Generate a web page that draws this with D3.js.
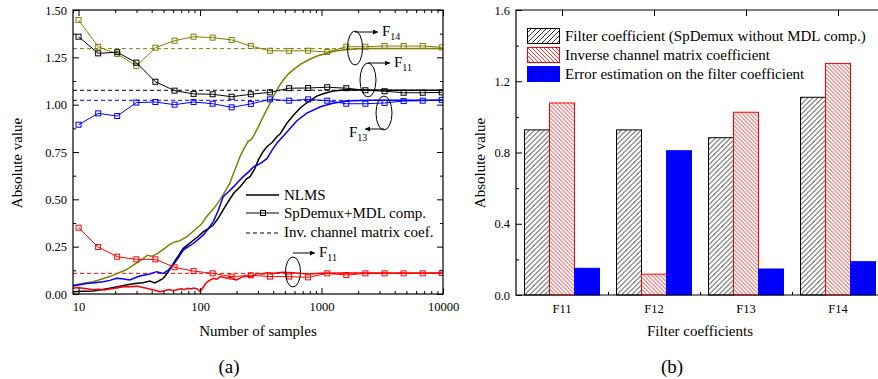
<!DOCTYPE html>
<html>
<head>
<meta charset="utf-8">
<script src="https://cdn.jsdelivr.net/npm/d3@7"></script>
<style>
  body { margin: 0; background: #fff; }
  svg text { font-family: "Liberation Serif", "Times New Roman", serif; fill: #000; }
  .axis path, .axis line { stroke: #000; stroke-width: 1; }
  .axis text { font-size: 12.5px; }
</style>
</head>
<body>
<svg id="chart" width="878" height="379"></svg>
<script>
// ---- dados do painel (a) ----
const xTicksA = [10, 100, 1000, 10000];
const yTicksA = [0, 0.25, 0.5, 0.75, 1.0, 1.25, 1.5];

// amostras onde estão os marcadores (SpDemux+MDL comp.)
const markerSamples = [10, 14.5, 20.8, 29.9, 42.9, 61.7, 88.5, 127, 182, 262, 376, 541, 776, 1114, 1600, 2297, 3304, 4742, 6808, 9772];
const mdlF14 = [1.447, 1.306, 1.268, 1.204, 1.301, 1.338, 1.359, 1.354, 1.342, 1.310, 1.285, 1.284, 1.285, 1.278, 1.306, 1.306, 1.310, 1.310, 1.310, 1.303];
const mdlF11 = [1.359, 1.271, 1.277, 1.222, 1.121, 1.074, 1.057, 1.055, 1.042, 1.055, 1.065, 1.087, 1.088, 1.092, 1.087, 1.076, 1.071, 1.063, 1.063, 1.065];
const mdlF13 = [0.894, 0.954, 0.940, 1.011, 1.014, 1.000, 1.014, 1.005, 0.986, 1.004, 1.028, 1.021, 1.028, 1.021, 1.005, 1.005, 1.009, 1.019, 1.021, 1.025];
const mdlF12 = [0.350, 0.248, 0.197, 0.183, 0.183, 0.141, 0.121, 0.109, 0.092, 0.099, 0.092, 0.092, 0.088, 0.109, 0.100, 0.109, 0.109, 0.109, 0.109, 0.111];

// curvas NLMS [amostras, valor]
const nlmsF14 = [[9,0.048],[13.2,0.065],[18.1,0.092],[24.6,0.128],[33.9,0.185],[36.7,0.205],[40.4,0.200],[44.2,0.212],[50.8,0.240],[56.4,0.262],[62,0.275],[68.6,0.282],[79,0.305],[88.6,0.334],[103,0.370],[113,0.408],[131,0.455],[146,0.497],[160,0.54],[176,0.585],[182,0.611],[195,0.66],[213,0.725],[227,0.761],[248,0.805],[262,0.815],[274,0.831],[300,0.88],[331,0.937],[365,0.99],[401,1.042],[440,1.09],[484,1.13],[530,1.16],[586,1.185],[680,1.215],[778,1.236],[920,1.257],[1102,1.272],[1300,1.283],[1510,1.289],[2000,1.295],[2353,1.297],[4000,1.297],[10000,1.297]];
const nlmsF11 = [[9,0.012],[10.8,0.014],[13.2,0.016],[15.4,0.022],[18.1,0.030],[20.9,0.038],[24.6,0.048],[29.2,0.055],[33.9,0.060],[38.6,0.068],[42.3,0.058],[46.1,0.070],[49.8,0.083],[54.5,0.115],[60.1,0.160],[66.8,0.205],[72.5,0.240],[80,0.262],[88.6,0.285],[97.1,0.305],[106.6,0.329],[117,0.345],[128.5,0.364],[141,0.400],[155,0.444],[171.5,0.490],[189,0.532],[213,0.565],[243,0.610],[258,0.62],[281,0.66],[302,0.708],[329,0.75],[355,0.778],[392,0.80],[429,0.831],[456,0.845],[519,0.902],[589,0.945],[674,0.985],[757,1.010],[913,1.045],[1034,1.058],[1240,1.072],[1602,1.079],[2427,1.078],[4872,1.076],[10000,1.076]];
const nlmsF13 = [[9,0.042],[11.6,0.056],[13.5,0.060],[16,0.065],[18.1,0.072],[20.5,0.083],[22.8,0.080],[26.4,0.074],[29.2,0.086],[32,0.095],[38.6,0.106],[43.9,0.118],[49.8,0.109],[54.5,0.125],[60.1,0.153],[66.8,0.195],[72.9,0.232],[80,0.25],[88.6,0.268],[97.1,0.29],[106.6,0.312],[117,0.345],[128.5,0.382],[141,0.44],[155,0.514],[171.5,0.540],[189,0.567],[208,0.595],[227,0.620],[251,0.645],[276,0.672],[315,0.69],[355,0.715],[392,0.76],[429,0.796],[519,0.855],[627,0.915],[757,0.955],[992,0.990],[1240,1.007],[1602,1.019],[2427,1.023],[10000,1.023]];
const nlmsF12 = [[9,0.030],[9.9,0.034],[10.8,0.031],[12.2,0.027],[13.2,0.022],[14.5,0.025],[16.3,0.021],[18.1,0.026],[20,0.030],[22.3,0.036],[24.9,0.040],[27.4,0.038],[30,0.042],[33,0.036],[36.3,0.030],[39.5,0.024],[43.2,0.018],[46.7,0.012],[50.8,0.017],[55.4,0.023],[59.2,0.018],[63.9,0.021],[69.6,0.027],[74.3,0.024],[80,0.030],[83.8,0.026],[88.6,0.031],[93.3,0.028],[97.1,0.022],[100,0.012],[103.7,0.025],[108.5,0.045],[113,0.060],[120,0.072],[128.5,0.083],[137,0.078],[146.6,0.092],[156,0.088],[166,0.083],[179,0.090],[189,0.078],[200,0.074],[218,0.088],[243,0.095],[266,0.090],[295,0.109],[324,0.104],[355,0.112],[402,0.110],[487,0.115],[577,0.112],[771,0.106],[992,0.110],[1452,0.111],[2915,0.111],[10000,0.111]];

// coeficientes da matriz inversa (linhas tracejadas)
const invCoefA = [1.296, 1.076, 1.023, 0.109];
const seriesColors = ["#808000", "#000000", "#0000ff", "#ff0000"];

// ---- dados do painel (b) ----
const categories = ["F11", "F12", "F13", "F14"];
const barSeries = ["filter", "inverse", "error"];
const filterCoef = [0.927, 0.927, 0.883, 1.11];
const inverseCoef = [1.078, 0.117, 1.026, 1.30];
const errorCoef = [0.15, 0.81, 0.146, 0.187];
const yTicksB = [0, 0.4, 0.8, 1.2, 1.6];
const legendB = ["Filter coefficient (SpDemux without MDL comp.)", "Inverse channel matrix coefficient", "Error estimation on the filter coefficient"];

const svg = d3.select("#chart");
const defs = svg.append("defs");

// padrões de hachura
defs.append("pattern").attr("id", "hatchBlack")
    .attr("patternUnits", "userSpaceOnUse").attr("width", 5).attr("height", 5)
    .call(p => {
        p.append("rect").attr("width", 5).attr("height", 5).attr("fill", "#fff");
        p.append("path").attr("d", "M-1,1 l2,-2 M0,5 l5,-5 M4,6 l2,-2")
            .attr("stroke", "#000").attr("stroke-width", 0.8);
    });
defs.append("pattern").attr("id", "hatchRed")
    .attr("patternUnits", "userSpaceOnUse").attr("width", 4).attr("height", 4)
    .call(p => {
        p.append("rect").attr("width", 4).attr("height", 4).attr("fill", "#fff");
        p.append("path").attr("d", "M-1,3 l2,2 M0,0 l4,4 M3,-1 l2,2")
            .attr("stroke", "#ff0000").attr("stroke-width", 0.8);
    });
defs.append("marker").attr("id", "arrow")
    .attr("viewBox", "0 0 10 10").attr("refX", 10).attr("refY", 5)
    .attr("markerWidth", 7).attr("markerHeight", 5).attr("markerUnits", "userSpaceOnUse")
    .attr("orient", "auto")
    .append("path").attr("d", "M0,0 L10,5 L0,10 Z").attr("fill", "#000");
defs.append("clipPath").attr("id", "clipA")
    .append("rect").attr("x", 73).attr("y", 10).attr("width", 370).attr("height", 284);

// ================= Painel (a) =================
const xA = d3.scaleLog().domain([9, 10000]).range([73, 443]);
const yA = d3.scaleLinear().domain([0, 1.5]).range([294, 10]);
const minorX = xA.ticks().filter(d => !xTicksA.includes(d));
const minorYA = d3.range(0.125, 1.5, 0.25);

const gA = svg.append("g");
const plotA = gA.append("g").attr("clip-path", "url(#clipA)");

// linhas tracejadas
plotA.selectAll(".inv").data(invCoefA).join("line")
    .attr("x1", xA(9)).attr("x2", xA(10000))
    .attr("y1", d => yA(d)).attr("y2", d => yA(d))
    .attr("stroke", (d, i) => seriesColors[i]).attr("stroke-width", 1)
    .attr("stroke-dasharray", "4,3");

const lineA = d3.line().x(d => xA(d[0])).y(d => yA(d[1]));
[nlmsF14, nlmsF11, nlmsF13, nlmsF12].forEach((s, i) => {
    plotA.append("path").datum(s).attr("d", lineA)
        .attr("fill", "none").attr("stroke", seriesColors[i]).attr("stroke-width", 1.5);
});

[mdlF14, mdlF11, mdlF13, mdlF12].forEach((vals, i) => {
    const pts = vals.map((v, k) => [markerSamples[k], v]);
    plotA.append("path").datum(pts).attr("d", lineA)
        .attr("fill", "none").attr("stroke", seriesColors[i]).attr("stroke-width", 1);
    plotA.selectAll(null).data(pts).join("rect")
        .attr("x", d => xA(d[0]) - 2.5).attr("y", d => yA(d[1]) - 2.5)
        .attr("width", 5).attr("height", 5)
        .attr("fill", "none").attr("stroke", seriesColors[i]).attr("stroke-width", 1);
});

// eixos
const noDomain = g => g.select(".domain").remove();
gA.append("g").attr("class", "axis").attr("transform", "translate(0,294)")
    .call(d3.axisBottom(xA).tickValues(xTicksA).tickFormat(d3.format("d")).tickSize(-6).tickPadding(8)).call(noDomain);
gA.append("g").attr("class", "axis").attr("transform", "translate(0,294)")
    .call(d3.axisBottom(xA).tickValues(minorX).tickFormat("").tickSize(-3)).call(noDomain);
gA.append("g").attr("class", "axis").attr("transform", "translate(0,10)")
    .call(d3.axisTop(xA).tickValues(xTicksA).tickFormat("").tickSize(-6)).call(noDomain);
gA.append("g").attr("class", "axis").attr("transform", "translate(0,10)")
    .call(d3.axisTop(xA).tickValues(minorX).tickFormat("").tickSize(-3)).call(noDomain);
gA.append("g").attr("class", "axis").attr("transform", "translate(73,0)")
    .call(d3.axisLeft(yA).tickValues(yTicksA).tickFormat(d3.format(".2f")).tickSize(-6).tickPadding(6)).call(noDomain);
gA.append("g").attr("class", "axis").attr("transform", "translate(73,0)")
    .call(d3.axisLeft(yA).tickValues(minorYA).tickFormat("").tickSize(-3)).call(noDomain);
gA.append("g").attr("class", "axis").attr("transform", "translate(443,0)")
    .call(d3.axisRight(yA).tickValues(yTicksA).tickFormat("").tickSize(-6)).call(noDomain);
gA.append("g").attr("class", "axis").attr("transform", "translate(443,0)")
    .call(d3.axisRight(yA).tickValues(minorYA).tickFormat("").tickSize(-3)).call(noDomain);
gA.append("rect").attr("x", 73).attr("y", 10).attr("width", 370).attr("height", 284)
    .attr("fill", "none").attr("stroke", "#000").attr("stroke-width", 1.2);

gA.append("text").attr("x", 258).attr("y", 336).attr("text-anchor", "middle")
    .style("font-size", "15px").text("Number of samples");
gA.append("text").attr("transform", "translate(22,163) rotate(-90)").attr("text-anchor", "middle")
    .style("font-size", "15px").text("Absolute value");
gA.append("text").attr("x", 229).attr("y", 373).attr("text-anchor", "middle")
    .style("font-size", "19px").text("(a)");

// legenda (a)
const legA = gA.append("g");
legA.append("line").attr("x1", 246).attr("x2", 279).attr("y1", 195).attr("y2", 195).attr("stroke", "#000").attr("stroke-width", 1.3);
legA.append("line").attr("x1", 246).attr("x2", 279).attr("y1", 213).attr("y2", 213).attr("stroke", "#000");
legA.append("rect").attr("x", 260.5).attr("y", 210.5).attr("width", 5).attr("height", 5).attr("fill", "none").attr("stroke", "#000");
legA.append("line").attr("x1", 246).attr("x2", 279).attr("y1", 233).attr("y2", 233).attr("stroke", "#000").attr("stroke-dasharray", "4,3");
["NLMS", "SpDemux+MDL comp.", "Inv. channel matrix coef."].forEach((t, i) => {
    legA.append("text").attr("x", 284).attr("y", [200, 218, 237][i]).style("font-size", "15px").text(t);
});

// anotações (elipses + setas)
const notes = [
    { cx: 355, cy: 48, rx: 7.5, ry: 17, ax: 378, ay: 32, dir: 1, sub: "14" },
    { cx: 368, cy: 80, rx: 8, ry: 17, ax: 390, ay: 63, dir: 1, sub: "11" },
    { cx: 384, cy: 113, rx: 8, ry: 17, ax: 365, ay: 129, dir: -1, sub: "13" },
    { cx: 293, cy: 272, rx: 7.5, ry: 15, ax: 315, ay: 253, dir: 1, sub: "11" }
];
notes.forEach(n => {
    gA.append("ellipse").attr("cx", n.cx).attr("cy", n.cy).attr("rx", n.rx).attr("ry", n.ry)
        .attr("fill", "none").attr("stroke", "#000").attr("stroke-width", 1);
    gA.append("line").attr("x1", n.cx).attr("y1", n.ay).attr("x2", n.ax).attr("y2", n.ay)
        .attr("stroke", "#000").attr("stroke-width", 1).attr("marker-end", "url(#arrow)");
    const tx = n.dir > 0 ? n.ax + 4 : n.ax - 16;
    const t = gA.append("text").attr("x", tx).attr("y", n.ay + (n.dir > 0 ? 4 : 8)).style("font-size", "15px");
    t.append("tspan").text("F");
    t.append("tspan").attr("dy", 4).style("font-size", "10px").text(n.sub);
});

// ================= Painel (b) =================
const xB = d3.scaleBand().domain(categories).range([516, 884]).paddingInner(0.1848).paddingOuter(0.0924);
const xB1 = d3.scaleBand().domain(barSeries).range([0, xB.bandwidth()]);
const yB = d3.scaleLinear().domain([0, 1.6]).range([295, 10]);
const minorYB = d3.range(0.2, 1.6, 0.4);

const gB = svg.append("g");
const barData = categories.map((c, i) => ({
    cat: c,
    vals: [
        { key: "filter", v: filterCoef[i] },
        { key: "inverse", v: inverseCoef[i] },
        { key: "error", v: errorCoef[i] }
    ]
}));
const barFill = { filter: "url(#hatchBlack)", inverse: "url(#hatchRed)", error: "#0000ff" };
const barStroke = { filter: "#000", inverse: "#ff0000", error: "#0000ff" };

gB.append("g").selectAll("g").data(barData).join("g")
    .attr("transform", d => `translate(${xB(d.cat)},0)`)
    .selectAll("rect").data(d => d.vals).join("rect")
    .attr("x", d => xB1(d.key)).attr("y", d => yB(d.v))
    .attr("width", xB1.bandwidth()).attr("height", d => yB(0) - yB(d.v))
    .attr("fill", d => barFill[d.key]).attr("stroke", d => barStroke[d.key]).attr("stroke-width", 1);

const centers = categories.map(c => xB(c) + xB.bandwidth() / 2);
const bounds = categories.slice(1).map(c => xB(c) - xB.step() * 0.0924);
const xBlin = d3.scaleLinear().domain([0, 1000]).range([0, 1000]);
gB.append("g").attr("class", "axis").attr("transform", "translate(0,295)")
    .call(d3.axisBottom(xB).tickSize(0).tickPadding(9)).call(noDomain);
gB.append("g").attr("class", "axis").attr("transform", "translate(0,295)")
    .call(d3.axisBottom(xBlin).tickValues(bounds).tickFormat("").tickSize(-3)).call(noDomain);
gB.append("g").attr("class", "axis").attr("transform", "translate(0,10)")
    .call(d3.axisTop(xBlin).tickValues(centers).tickFormat("").tickSize(-6)).call(noDomain);
gB.append("g").attr("class", "axis").attr("transform", "translate(516,0)")
    .call(d3.axisLeft(yB).tickValues(yTicksB).tickFormat(d3.format(".1f")).tickSize(-6).tickPadding(6)).call(noDomain);
gB.append("g").attr("class", "axis").attr("transform", "translate(516,0)")
    .call(d3.axisLeft(yB).tickValues(minorYB).tickFormat("").tickSize(-3)).call(noDomain);
gB.append("path").attr("d", "M884,10 H516 V295 H884")
    .attr("fill", "none").attr("stroke", "#000").attr("stroke-width", 1.2);

gB.append("text").attr("x", 700).attr("y", 336).attr("text-anchor", "middle")
    .style("font-size", "15px").text("Filter coefficients");
gB.append("text").attr("transform", "translate(485,163) rotate(-90)").attr("text-anchor", "middle")
    .style("font-size", "15px").text("Absolute value");
gB.append("text").attr("x", 672).attr("y", 373).attr("text-anchor", "middle")
    .style("font-size", "19px").text("(b)");

// legenda (b)
const legB = gB.append("g");
legendB.forEach((t, i) => {
    const y0 = 28 + i * 19;
    legB.append("rect").attr("x", 527.5).attr("y", y0 + 0.5).attr("width", 32).attr("height", 15)
        .attr("fill", barFill[barSeries[i]]).attr("stroke", barStroke[barSeries[i]]);
    legB.append("text").attr("x", 565).attr("y", y0 + 13).style("font-size", "15px").text(t);
});
</script>
</body>
</html>
